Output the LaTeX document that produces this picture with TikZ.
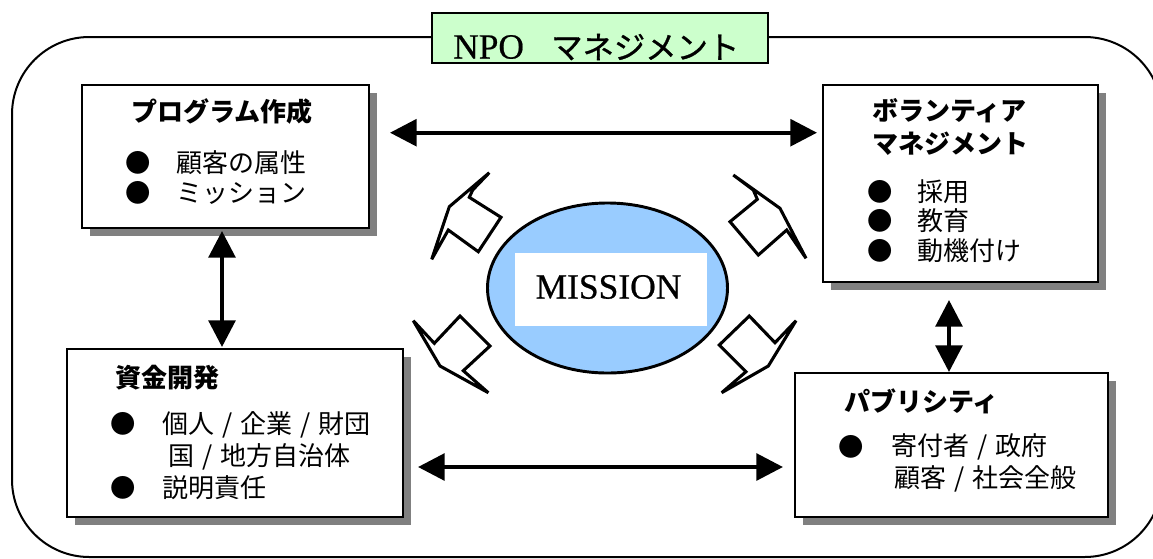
\documentclass[tikz,border=0pt]{standalone}
\usepackage{fontspec}
\setmainfont{Liberation Serif}
\newfontfamily\serifh[FakeBold=0.6]{Liberation Serif}
\newfontfamily\jp{Noto Sans CJK JP}
\newfontfamily\jpm[FakeBold=1]{Noto Sans CJK JP}
\usetikzlibrary{arrows.meta,shapes.geometric,shadows}
\definecolor{shgray}{HTML}{808080}
\definecolor{titlegreen}{HTML}{CCFFCC}
\definecolor{missionblue}{HTML}{99CCFF}
\newcommand\jslash{\hbox to 1em{\hss/\hss}}
\tikzset{
 sbox/.style={draw=black, line width=1.5pt, fill=white, inner sep=0pt,
   drop shadow={shadow xshift=6pt, shadow yshift=-6pt, fill=shgray, opacity=1}},
 dbl/.style={line width=3pt, {Triangle[length=20pt,width=20pt]}-{Triangle[length=20pt,width=20pt]}},
 hd/.style={anchor=west, inner sep=0pt, font=\jp\bfseries\fontsize{19.5pt}{23pt}\selectfont},
 it/.style={anchor=west, inner sep=0pt, font=\jp\fontsize{19.5pt}{23pt}\selectfont},
 bu/.style={inner sep=0pt, font=\jp\fontsize{19pt}{22pt}\selectfont},
 ray/.style={draw=black, fill=white, line width=2.3pt, line join=miter, miter limit=5},
}
\begin{document}
\begin{tikzpicture}[x=0.75pt,y=-0.75pt]
\useasboundingbox (0,0) rectangle (1153,558);
\clip (0,0) rectangle (1153,558);
% outer frame
\draw[line width=1.5pt, rounded corners=58pt] (12,37) rectangle (1162,557);
% title
\node[draw=black, line width=0.8pt, fill=titlegreen, minimum width=336*0.75pt, minimum height=50*0.75pt, inner sep=0pt] (title) at (600,38) {};
\node[anchor=west, inner sep=0pt, font=\serifh\fontsize{26.5pt}{30pt}\selectfont] (tnpo) at (453,47) {NPO};
\node[anchor=west, inner sep=0pt, font=\jpm\fontsize{23.5pt}{27pt}\selectfont] (tmgmt) at (551,47) {マネジメント};
% boxes
\node[sbox, minimum width=287*0.75pt, minimum height=143*0.75pt] (b1) at (225.5,156.5) {};
\node[sbox, minimum width=275*0.75pt, minimum height=197*0.75pt] (b2) at (960.5,183.5) {};
\node[sbox, minimum width=336*0.75pt, minimum height=168*0.75pt] (b3) at (235,433) {};
\node[sbox, minimum width=313*0.75pt, minimum height=144*0.75pt] (b4) at (951.5,445) {};
% box 1 text
\node[hd] (h1) at (131,112) {プログラム作成};
\node[bu] (p11) at (138,163) {●};
\node[it] (i11) at (176,163) {顧客の属性};
\node[bu] (p12) at (138,193) {●};
\node[it] (i12) at (176,193) {ミッション};
% box 2 text
\node[hd] (h2a) at (872,111) {ボランティア};
\node[hd] (h2b) at (872,144) {マネジメント};
\node[bu] (p21) at (880,192) {●};
\node[it] (i21) at (917,192) {採用};
\node[bu] (p22) at (880,221) {●};
\node[it] (i22) at (917,221) {教育};
\node[bu] (p23) at (880,251) {●};
\node[it] (i23) at (917,251) {動機付け};
% box 3 text
\node[hd] (h3) at (115,378) {資金開発};
\node[bu] (p31) at (123,424) {●};
\node[it] (i31) at (162,425) {個人\jslash 企業\jslash 財団};
\node[it] (i32) at (168,457) {国\jslash 地方自治体};
\node[bu] (p32) at (123,488) {●};
\node[it] (i33) at (162,488) {説明責任};
% box 4 text
\node[hd] (h4) at (844,401) {パブリシティ};
\node[bu] (p41) at (851,447) {●};
\node[it] (i41) at (891,447) {寄付者\jslash 政府};
\node[it] (i42) at (894,479) {顧客\jslash 社会全般};
% mission
\node[ellipse, draw=black, line width=2.2pt, fill=missionblue, minimum width=240*0.75pt, minimum height=170*0.75pt, inner sep=0pt] (mis) at (607.5,288) {};
\node[fill=white, minimum width=192*0.75pt, minimum height=73*0.75pt, inner sep=0pt] (mrect) at (611,289.5) {};
\node[inner sep=0pt, font=\serifh\fontsize{26.6pt}{30pt}\selectfont] (mtext) at (608.5,287) {MISSION};
% ray arrows
\draw[ray] (489.3,172.7) -- (449.3,206.7) -- (431.7,259.3) -- (448.3,230) -- (478.3,251.7) -- (501,217.3) -- (469.3,197.3) -- (472.7,190) -- cycle;
\draw[ray] (413.3,320.7) -- (434.3,343.3) -- (460,316) -- (490,346) -- (463.3,370.7) -- (488.3,392.7) -- (440,366) -- cycle;
\draw[ray] (733.3,175) -- (780,208.3) -- (806,258.3) -- (786.7,230) -- (758.3,255) -- (730,221.7) -- (757.3,199.3) -- (753.3,190) -- cycle;
\draw[ray] (749.3,316) -- (775,342.7) -- (796,320.7) -- (768.3,366) -- (721.7,392.7) -- (746,371.7) -- (719.3,345) -- cycle;
% connectors
\coordinate (a1s) at (390,132.7);
\coordinate (a1e) at (817,132.7);
\coordinate (a2s) at (222,231);
\coordinate (a2e) at (222,347);
\coordinate (a3s) at (949,300);
\coordinate (a3e) at (949,372);
\coordinate (a4s) at (418,467);
\coordinate (a4e) at (783,467);
\draw[dbl] (a1s) -- (a1e);
\draw[dbl] (a2s) -- (a2e);
\draw[dbl] (a3s) -- (a3e);
\draw[dbl] (a4s) -- (a4e);
\end{tikzpicture}
\end{document}
